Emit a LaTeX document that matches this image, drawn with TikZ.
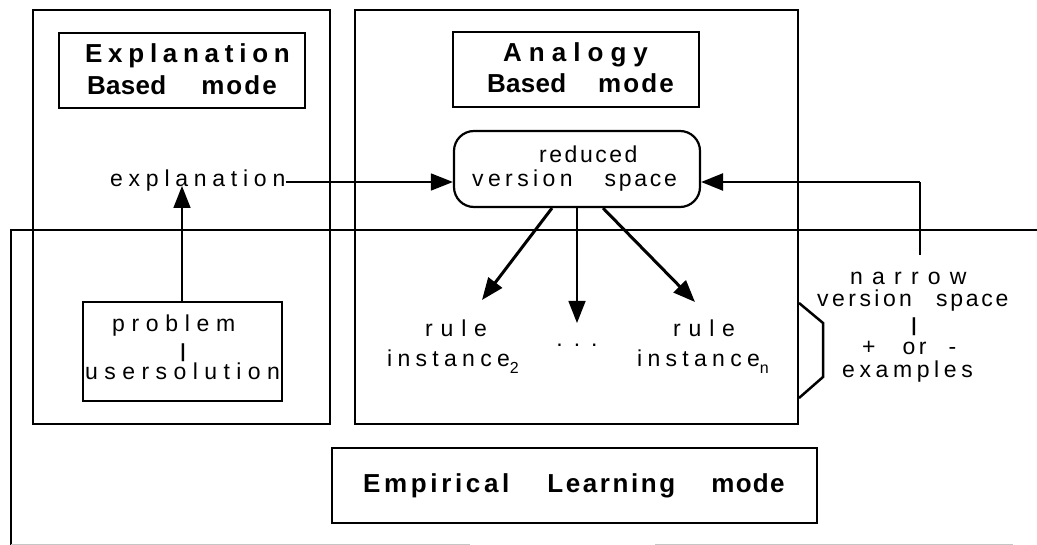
\documentclass[tikz,border=0pt]{standalone}
\usepackage{fontspec}
\setmainfont{Liberation Sans}
\usetikzlibrary{arrows.meta}
\newcommand\lsp[2]{{\addfontfeatures{LetterSpace=#1}#2}}
\begin{document}
\begin{tikzpicture}[x=1pt,y=-1pt,
  boxline/.style={line width=2pt},
  titlebox/.style={draw, line width=2.2pt, inner sep=0pt},
  plain/.style={inner sep=0pt, font=\fontsize{23}{27}\selectfont},
  bold/.style={inner sep=0pt, font=\fontsize{26}{30}\selectfont\bfseries},
  bar/.style={inner sep=0pt, font=\fontsize{19}{19}\selectfont\bfseries},
  arr/.style={-{Triangle[length=22pt,width=17pt]}},
]
\useasboundingbox (0,0) rectangle (1037,545);
% outer frames
\node[draw, line width=2pt, minimum width=297pt, minimum height=414pt, inner sep=0pt] (ebox) at (181.5,217) {};
\node[draw, line width=2pt, minimum width=443pt, minimum height=414pt, inner sep=0pt] (abox) at (576.5,217) {};
\draw[boxline] (1040,230) -- (11,230) -- (11,545);
\draw[gray!45, line width=1pt] (11,544) -- (470,544) (655,544) -- (1013,544);
% title boxes
\node[titlebox, minimum width=246pt, minimum height=75pt] (etitle) at (182,70.5) {};
\node[titlebox, minimum width=246pt, minimum height=75pt] (atitle) at (576,69.5) {};
\node[titlebox, minimum width=485pt, minimum height=75pt] (ltitle) at (574.5,485.5) {};
\node[draw, line width=2.2pt, rounded corners=20pt, minimum width=246pt, minimum height=76pt, inner sep=0pt] (red) at (577,169) {};
\node[draw, line width=2pt, minimum width=199pt, minimum height=99pt, inner sep=0pt] (prob) at (182.5,351.5) {};
% bold titles
\node[bold, anchor=base west] (et1) at (85,63) {\lsp{22}{Explanation}};
\node[bold, anchor=base west] (et2) at (87,95) {\lsp{1}{Based}\hspace{35pt}\lsp{8}{mode}};
\node[bold, anchor=base west] (at1) at (503,62) {\lsp{27}{Analogy}};
\node[bold, anchor=base west] (at2) at (487,93) {\lsp{1}{Based}\hspace{32pt}\lsp{8}{mode}};
\node[bold, anchor=base west] (lt1) at (363,493) {\lsp{14}{Empirical}\hspace{38pt}\lsp{10}{Learning}\hspace{36pt}\lsp{5}{mode}};
% plain texts
\node[plain, anchor=base west] (expl) at (110,187) {\lsp{25}{explanation}};
\node[plain, anchor=base west] (r1) at (539,163) {\lsp{11}{reduced}};
\node[plain, anchor=base west] (r2) at (472,187) {\lsp{19}{version}\hspace{32pt}\lsp{12}{space}};
\node[plain, anchor=base west] (p1) at (112,332) {\lsp{29}{problem}};
\node[bar] (p2) at (183,352.5) {|};
\node[plain, anchor=base west] (p3) at (85,380) {\lsp{28}{usersolution}};
\node[plain, anchor=base west] (ra1) at (425,337) {\lsp{34}{rule}};
\node[plain, anchor=base west] (ra2) at (387,367) {\lsp{23}{instance}\raisebox{-6pt}{\fontsize{16}{16}\selectfont 2}};
\node[plain, anchor=base] (dots) at (577,347) {.\hspace{11pt}.\hspace{11pt}.};
\node[plain, anchor=base west] (rb1) at (673,337) {\lsp{34}{rule}};
\node[plain, anchor=base west] (rb2) at (637,367) {\lsp{23}{instance}\raisebox{-6pt}{\fontsize{16}{16}\selectfont n}};
\node[plain, anchor=base west] (n1) at (850,285) {\lsp{40}{narrow}};
\node[plain, anchor=base west] (n2) at (817,307) {\lsp{15}{version}\hspace{24pt}\lsp{12}{space}};
\node[bar] (n3) at (914,326.5) {|};
\node[plain, anchor=base west] (n4) at (862,355) {+\hspace{27pt}\lsp{15}{or}\hspace{22pt}-};
\node[plain, anchor=base west] (n5) at (842,378) {\lsp{20}{examples}};
% connectors
\coordinate (t1) at (482,300);
\coordinate (t2) at (577,323);
\coordinate (t3) at (695,302);
\coordinate (ntop) at (920,255);
\coordinate (etip) at (182,186);
\draw[arr, line width=1.5pt] (expl.east |- 0,182) -- (red.west |- 0,182);
\draw[arr, line width=1.5pt] (prob.north -| etip) -- (etip);
\draw[arr, line width=3pt] ([xshift=-25pt]red.south) -- (t1);
\draw[arr, line width=1.5pt] (red.south) -- (t2);
\draw[arr, line width=3pt] ([xshift=26pt]red.south) -- (t3);
\draw[line width=1.5pt] (ntop) -- (ntop |- 0,182);
\draw[arr, line width=2.5pt] (ntop |- 0,182) -- (red.east |- 0,182);
% bracket
\draw[line width=2.5pt, line join=miter] (abox.east |- 0,303) -- (823,323) -- (823,377) -- (abox.east |- 0,398);
\end{tikzpicture}
\end{document}
